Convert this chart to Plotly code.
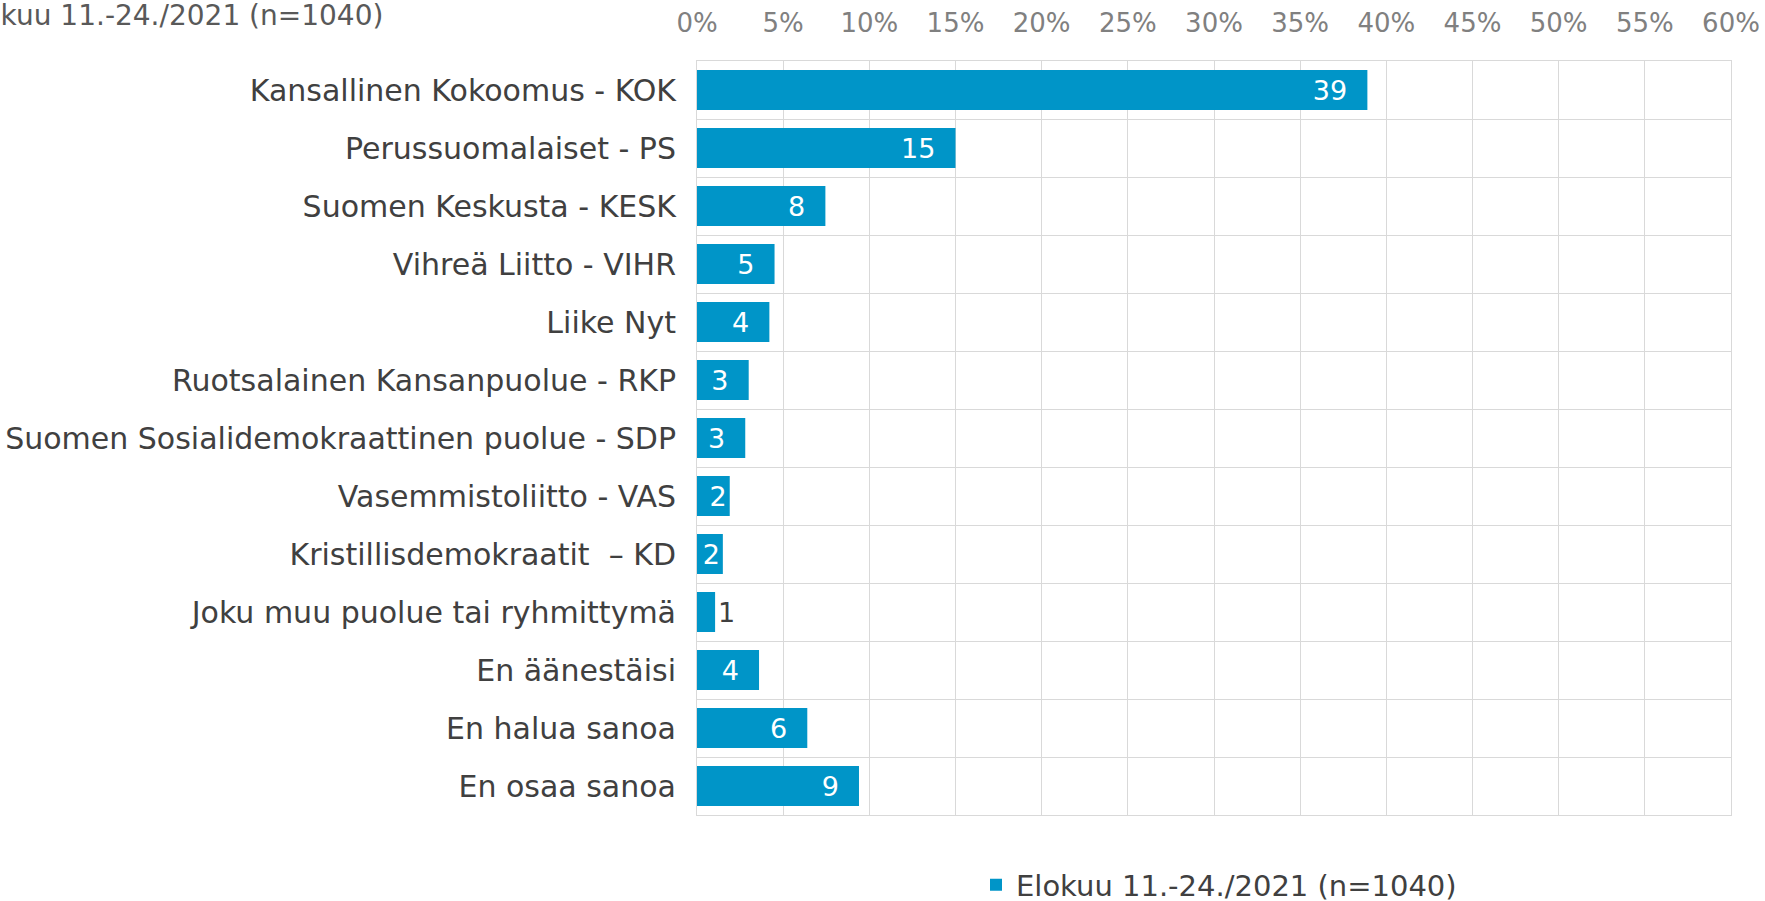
import plotly.graph_objects as go

categories = [
    "Kansallinen Kokoomus - KOK",
    "Perussuomalaiset - PS",
    "Suomen Keskusta - KESK",
    "Vihreä Liitto - VIHR",
    "Liike Nyt",
    "Ruotsalainen Kansanpuolue - RKP",
    "Suomen Sosialidemokraattinen puolue - SDP",
    "Vasemmistoliitto - VAS",
    "Kristillisdemokraatit  – KD",
    "Joku muu puolue tai ryhmittymä",
    "En äänestäisi",
    "En halua sanoa",
    "En osaa sanoa",
]
values = [38.9, 15.0, 7.45, 4.5, 4.2, 3.0, 2.8, 1.9, 1.5, 1.05, 3.6, 6.4, 9.4]
labels = ["39", "15", "8", "5", "4", "3", "3", "2", "2", "1", "4", "6", "9"]
series_name = "Elokuu 11.-24./2021 (n=1040)"
x_ticks = list(range(0, 61, 5))
x_tick_labels = [f"{t}%" for t in x_ticks]

W, H = 1765, 901
L, R, T, B = 697, 34, 61, 86
PW, PH = W - L - R, H - T - B

FONT = "DejaVu Sans"
BLUE = "#0095C8"

NB = "\u00a0"
textpos = ["outside" if v < 1.3 else "inside" for v in values]
textcol = ["#404040" if v < 1.3 else "white" for v in values]
templates = ["%{text}" + (NB * 2 if v >= 2.5 else "") for v in values]

fig = go.Figure()
fig.add_trace(go.Bar(
    x=values, y=categories, orientation="h", name=series_name,
    marker=dict(color=BLUE, line=dict(width=0)),
    text=labels, texttemplate=templates,
    textposition=textpos, insidetextanchor="end",
    textfont=dict(family=FONT, size=27, color=textcol),
    outsidetextfont=dict(family=FONT, size=27, color="#404040"),
    cliponaxis=False,
    constraintext="none",
    hoverinfo="skip",
))

fig.update_layout(
    width=W, height=H,
    margin=dict(l=L, r=R, t=T, b=B, autoexpand=False),
    paper_bgcolor="white", plot_bgcolor="white",
    bargap=0.31,
    font=dict(family=FONT, color="#404040"),
    uniformtext=dict(minsize=27, mode="show"),
    showlegend=True,
    legend=dict(
        orientation="h", x=(1219 - L) / PW, xanchor="center",
        y=-(885 - (T + PH)) / PH, yanchor="middle",
        font=dict(family=FONT, size=29, color="#404040"),
        itemwidth=30,
    ),
    xaxis=dict(
        side="top", range=[0, 60], tickvals=x_ticks, ticktext=x_tick_labels,
        showgrid=True, gridcolor="#D9D9D9", gridwidth=1,
        zeroline=False,
        showline=True, linecolor="#D9D9D9", mirror=True,
        ticks="outside", ticklen=18, tickcolor="rgba(0,0,0,0)",
        tickfont=dict(family=FONT, size=26, color="#808080"),
        fixedrange=True,
    ),
    yaxis=dict(
        type="category", autorange="reversed",
        tickson="boundaries", showgrid=True, gridcolor="#D9D9D9", gridwidth=1,
        showline=True, linecolor="#D9D9D9", mirror=True,
        ticks="", ticklabelstandoff=14,
        tickfont=dict(family=FONT, size=30, color="#404040"),
        fixedrange=True,
    ),
    annotations=[dict(
        text=series_name, xref="paper", yref="paper",
        x=(385 - L) / PW, xanchor="right",
        y=1 + (T - 16) / PH, yanchor="middle",
        showarrow=False, font=dict(family=FONT, size=28, color="#595959"),
    )],
)

fig.write_html(
    "out.html",
    config={"displayModeBar": False},
    post_script="document.body.style.margin='0';document.body.style.overflow='hidden';",
)
